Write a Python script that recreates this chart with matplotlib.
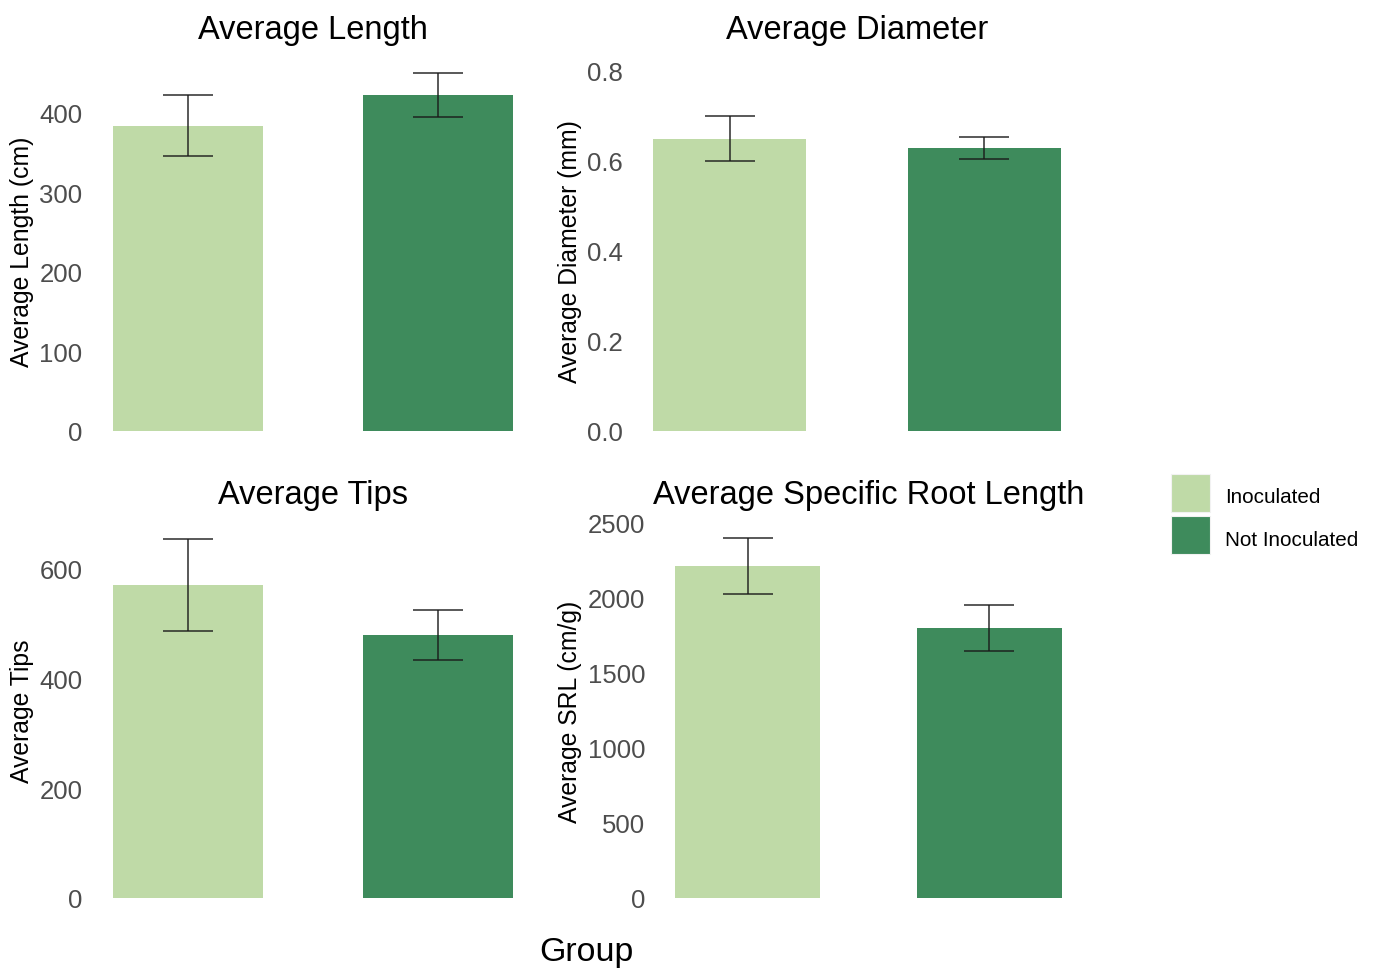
import matplotlib
matplotlib.use("Agg")
import matplotlib.pyplot as plt
from matplotlib.patches import Rectangle

plt.rcParams['font.family'] = ['Liberation Sans', 'DejaVu Sans']

groups = ["Inoculated", "Not Inoculated"]
colors = ["#bfdaa7", "#3e8b5c"]

length_mean = [384, 423]
length_se = [38, 27.5]
diam_mean = [0.650, 0.629]
diam_se = [0.049, 0.025]
tips_mean = [569, 478]
tips_se = [83, 45.5]
srl_mean = [2213, 1800]
srl_se = [187, 153]

W, H = 1374, 970
fig = plt.figure(figsize=(W / 100, H / 100), dpi=100)


def add_ax(x0, x1, ytop, ybot):
    return fig.add_axes([x0 / W, (H - ybot) / H, (x1 - x0) / W, (ybot - ytop) / H])


panels = [
    dict(box=(88, 538, 72, 432), mean=length_mean, se=length_se, ylim=452.8,
         ticks=[0, 100, 200, 300, 400], fmt="{:.0f}", title="Average Length",
         ylabel="Average Length (cm)", ylx=22),
    dict(box=(628, 1086, 72, 432), mean=diam_mean, se=diam_se, ylim=0.8,
         ticks=[0.0, 0.2, 0.4, 0.6, 0.8], fmt="{:.1f}", title="Average Diameter",
         ylabel="Average Diameter (mm)", ylx=570),
    dict(box=(88, 538, 524, 899), mean=tips_mean, se=tips_se, ylim=682,
         ticks=[0, 200, 400, 600], fmt="{:.0f}", title="Average Tips",
         ylabel="Average Tips", ylx=22),
    dict(box=(651, 1086, 524, 899), mean=srl_mean, se=srl_se, ylim=2500,
         ticks=[0, 500, 1000, 1500, 2000, 2500], fmt="{:.0f}",
         title="Average Specific Root Length", ylabel="Average SRL (cm/g)", ylx=570),
]

title_y = {72: 30, 524: 496}

for p in panels:
    x0, x1, yt, yb = p["box"]
    ax = add_ax(x0, x1, yt, yb)
    xs = [1, 2]
    ax.bar(xs, p["mean"], width=0.6, color=colors, zorder=2)
    ax.errorbar(xs, p["mean"], yerr=p["se"], fmt="none", ecolor="#1a1a1a",
                alpha=0.85, elinewidth=1.2, capsize=18, capthick=1.2, zorder=3)
    ax.set_xlim(0.6, 2.4)
    ax.set_ylim(0, p["ylim"])
    ax.set_yticks(p["ticks"])
    ax.set_yticklabels([p["fmt"].format(t) for t in p["ticks"]])
    ax.set_xticks([])
    ax.tick_params(axis="y", length=0, pad=4, labelsize=18.5, labelcolor="#4d4d4d")
    for s in ax.spines.values():
        s.set_visible(False)
    ax.patch.set_alpha(0)
    fig.text((x0 + x1) / 2 / W, 1 - title_y[yt] / H, p["title"], ha="center",
             va="center", fontsize=23.5, color="black")
    fig.text(p["ylx"] / W, 1 - (yt + yb) / 2 / H, p["ylabel"], rotation=90,
             ha="center", va="center", fontsize=17.8, color="black")

fig.text(586 / W, 1 - 953 / H, "Group", ha="center", va="center", fontsize=24.5,
         color="black")

# legend keys
key_tops = [475, 517]
for c, g, yt in zip(colors, groups, key_tops):
    fig.patches.append(Rectangle((1171 / W, 1 - (yt + 38) / H), 39 / W, 38 / H,
                                 transform=fig.transFigure, facecolor=c,
                                 edgecolor="#f2f2f2", linewidth=0.8))
    fig.text(1225 / W, 1 - (yt + 23) / H, g, ha="left", va="center",
             fontsize=14.9, color="black")

fig.savefig("out.png", dpi=100, facecolor="white")
